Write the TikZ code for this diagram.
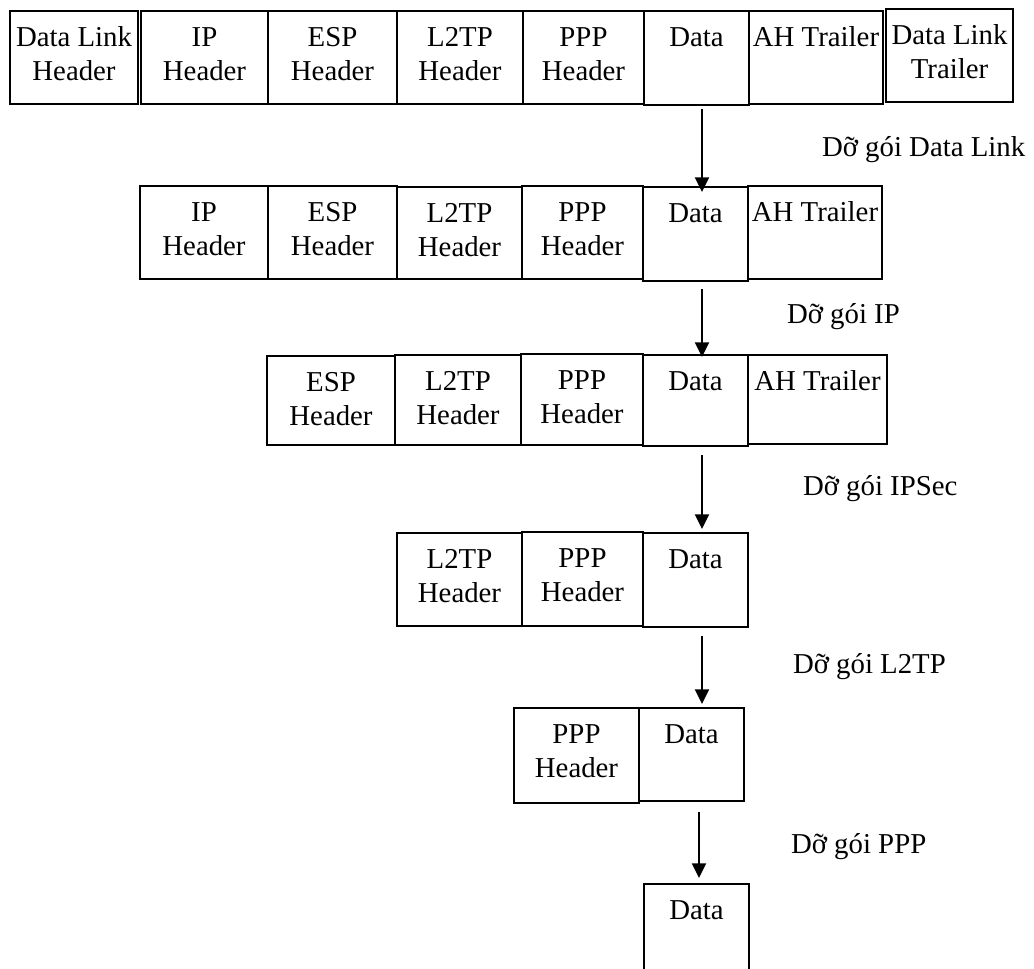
\documentclass[tikz,border=0pt]{standalone}
\usepackage{fontspec}
\setmainfont{Liberation Serif}
\usetikzlibrary{arrows.meta,calc}

% one drawing unit = one pixel of a 1034 x 968 canvas, y grows downwards
\tikzset{
  txt/.style={font=\fontsize{21.6pt}{25.5pt}\selectfont, inner sep=0pt, outer sep=0pt},
  cell/.style={draw, line width=1.1pt, rectangle, inner sep=0pt, outer sep=0pt},
  celltxt/.style={txt, anchor=base},
  steplabel/.style={txt, anchor=base west},
  arr/.style={line width=1.5pt, -{Triangle[length=11pt,width=10.5pt]}},
}

% \cellbox[extra style]{name}{x1}{y1}{x2}{y2}{text}
% the text is a top-aligned tabular, so its base is the first line's baseline
\newcommand\cellbox[7][]{%
  \node[cell,#1,minimum width={(#5-#3)*0.75pt},minimum height={(#6-#4)*0.75pt}]
    (#2) at ({(#3+#5)/2},{(#4+#6)/2}) {};
  \node[celltxt] (#2-t) at ($(#2.north)+(0,35)$)
    {\begin{tabular}[t]{@{}c@{}}#7\end{tabular}};}

% \unwrap{from}{to}{dx}{start gap}{tip offset}
\newcommand\unwrap[5]{%
  \draw[arr] ($(#1.south)+(#3,#4)$) -- ($(#1.south |- #2.north)+(#3,#5)$);}

\begin{document}
\begin{tikzpicture}[x=0.75pt,y=-0.75pt]
  \clip (0,0) rectangle (1034,968);

  % full frame
  \cellbox[line width=1.5pt]{dlh}{10}{11}{138}{104}{Data Link\\Header}
  \cellbox[line width=1.5pt]{ipa}{141}{11}{268}{104}{IP\\Header}
  \cellbox[line width=1.5pt]{espa}{268}{11}{397}{104}{ESP\\Header}
  \cellbox[line width=1.5pt]{l2a}{397}{11}{523}{104}{L2TP\\Header}
  \cellbox[line width=1.5pt]{pppa}{523}{11}{644}{104}{PPP\\Header}
  \cellbox[line width=1.5pt]{da}{644}{11}{749}{105}{Data}
  \cellbox[line width=1.5pt]{aha}{749}{11}{883}{104}{AH Trailer}
  \cellbox[line width=1.5pt]{dlt}{886}{9}{1013}{102}{Data Link\\Trailer}

  % without data link framing
  \cellbox{ipb}{140}{186}{268}{279}{IP\\Header}
  \cellbox{espb}{268}{186}{397}{279}{ESP\\Header}
  \cellbox{l2b}{397}{187}{522}{279}{L2TP\\Header}
  \cellbox{pppb}{522}{186}{643}{279}{PPP\\Header}
  \cellbox{db}{643}{187}{748}{281}{Data}
  \cellbox{ahb}{748}{186}{882}{279}{AH Trailer}

  % without IP header
  \cellbox{espc}{267}{356}{395}{445}{ESP\\Header}
  \cellbox{l2c}{395}{355}{521}{445}{L2TP\\Header}
  \cellbox{pppc}{521}{354}{643}{445}{PPP\\Header}
  \cellbox{dc}{643}{355}{748}{446}{Data}
  \cellbox{ahc}{748}{355}{887}{444}{AH Trailer}

  % without IPSec
  \cellbox{l2d}{397}{533}{522}{626}{L2TP\\Header}
  \cellbox{pppd}{522}{532}{643}{626}{PPP\\Header}
  \cellbox{dd}{643}{533}{748}{627}{Data}

  % without L2TP
  \cellbox{ppe}{514}{708}{639}{803}{PPP\\Header}
  \cellbox{de}{639}{708}{744}{801}{Data}

  % payload only
  \cellbox{df}{644}{884}{749}{1010}{Data}

  % decapsulation steps
  \unwrap{da}{db}{5.5}{4}{5}
  \unwrap{db}{dc}{6.5}{8}{2}
  \unwrap{dc}{dd}{6.5}{9}{-4}
  \unwrap{dd}{de}{6.5}{9}{-4}
  \unwrap{de}{df}{7.5}{11}{-6}

  \node[steplabel] (s1) at (822,156) {Dỡ gói Data Link};
  \node[steplabel] (s2) at (787,323) {Dỡ gói IP};
  \node[steplabel] (s3) at (803,495) {Dỡ gói IPSec};
  \node[steplabel] (s4) at (793,673) {Dỡ gói L2TP};
  \node[steplabel] (s5) at (791,853) {Dỡ gói PPP};
\end{tikzpicture}
\end{document}
